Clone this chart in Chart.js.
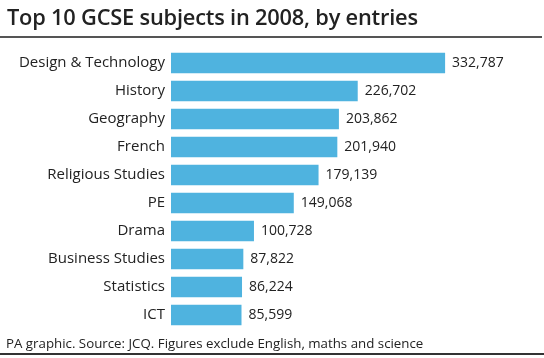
<!DOCTYPE html>
<html>
<head>
<meta charset="utf-8">
<script src="https://cdn.jsdelivr.net/npm/chart.js@4"></script>
<style>
  html, body { margin: 0; padding: 0; background: #fff; }
  #wrap { position: relative; width: 544px; height: 358px; overflow: hidden; font-family: "Open Sans", sans-serif; color: #222; }
  #title { position: absolute; left: 7px; top: 2px; font-size: 21.8px; font-weight: 600; letter-spacing: -0.2px; white-space: nowrap; }
  #title_line { position: absolute; left: 0; top: 36px; width: 542px; height: 2px; background: #555; }
  #footer { position: absolute; left: 6px; top: 334px; font-size: 13.3px; white-space: nowrap; }
  #footer_line { position: absolute; left: 0; top: 353px; width: 544px; height: 2px; background: #333; }
  canvas { position: absolute; left: 0; top: 0; }
</style>
</head>
<body>
<div id="wrap">
  <canvas id="chart" width="544" height="358"></canvas>
  <div id="title">Top 10 GCSE subjects in 2008, by entries</div>
  <div id="title_line"></div>
  <div id="footer">PA graphic. Source: JCQ. Figures exclude English, maths and science</div>
  <div id="footer_line"></div>
</div>
<script>
// data
const subjects = ["Design & Technology", "History", "Geography", "French", "Religious Studies",
                  "PE", "Drama", "Business Studies", "Statistics", "ICT"];
const entries = [332787, 226702, 203862, 201940, 179139, 149068, 100728, 87822, 86224, 85599];

const bar_color = "#4fb3df";
const text_color = "#222";
const font_family = "'Open Sans', sans-serif";

// value labels at the end of each bar
const valueLabels = {
    id: "valueLabels",
    afterDatasetsDraw(chart){
        const ctx = chart.ctx;
        const meta = chart.getDatasetMeta(0);
        ctx.save();
        ctx.font = "14px " + font_family;
        ctx.fillStyle = text_color;
        ctx.textAlign = "left";
        ctx.textBaseline = "middle";
        meta.data.forEach(function(bar, i){
            ctx.fillText(entries[i].toLocaleString("en-GB"), bar.x + 7, bar.y);
        });
        ctx.restore();
    }
};

new Chart(document.getElementById("chart").getContext("2d"), {
    type: "bar",
    data: {
        labels: subjects,
        datasets: [{
            data: entries,
            backgroundColor: bar_color,
            borderWidth: 0,
            barPercentage: 0.74,
            categoryPercentage: 1
        }]
    },
    options: {
        indexAxis: "y",
        responsive: false,
        animation: false,
        layout: { padding: { top: 49, bottom: 29, left: 0, right: 4 } },
        plugins: {
            legend: { display: false },
            tooltip: { enabled: false }
        },
        scales: {
            x: { display: false, min: 0, max: 448000 },
            y: {
                afterFit(scale){ scale.width = 171; },
                grid: { display: false, drawTicks: false },
                border: { display: false },
                ticks: {
                    color: text_color,
                    padding: 6,
                    font: { family: font_family, size: 15 }
                }
            }
        }
    },
    plugins: [valueLabels]
});
</script>
</body>
</html>
